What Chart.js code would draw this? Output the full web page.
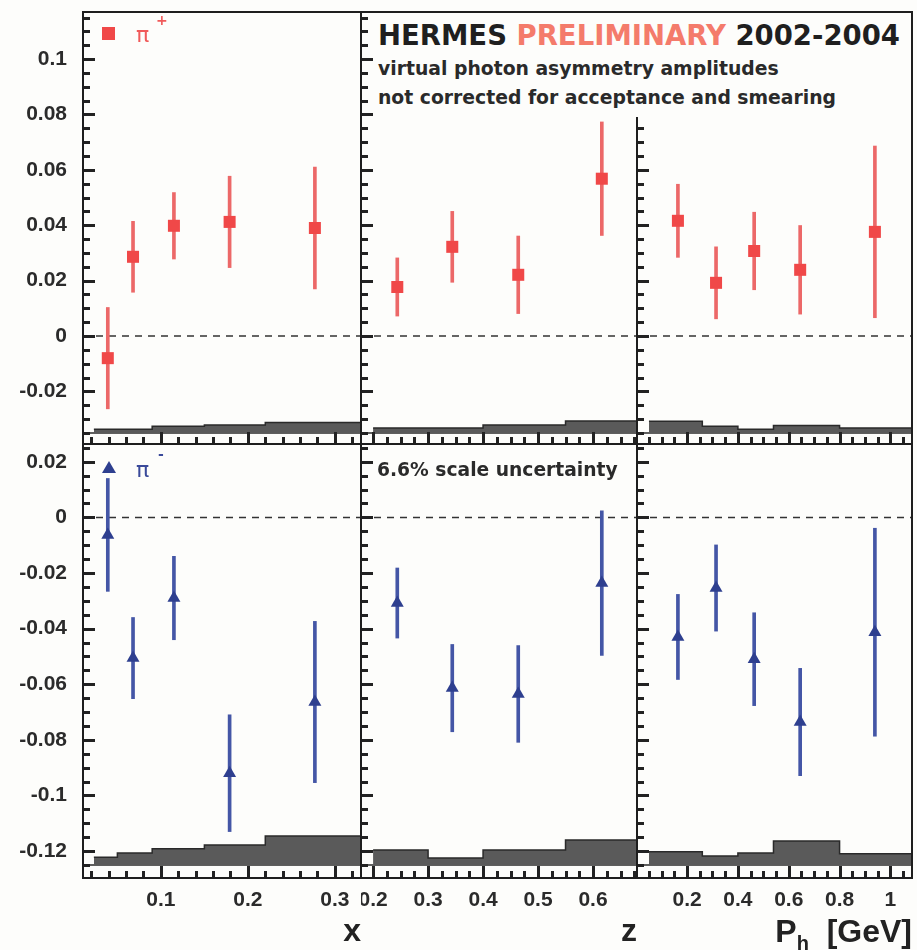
<!DOCTYPE html>
<html lang="en">
<head>
<meta charset="utf-8">
<title>HERMES preliminary - virtual photon asymmetry amplitudes</title>
<script src="https://cdn.jsdelivr.net/npm/chart.js@4.4.1/dist/chart.umd.min.js"></script>
<style>
  html, body { margin: 0; padding: 0; }
  body { width: 917px; height: 950px; position: relative; overflow: hidden; background: #fdfdfb; }
  canvas { position: absolute; }
  .txt { position: absolute; white-space: nowrap; font-family: 'DejaVu Sans', sans-serif; font-weight: bold; color: #2a2a2a; line-height: 1; z-index: 2; }
  #headerBox { position: absolute; left: 374px; top: 13px; width: 537px; height: 104px; background: #fdfdfb; z-index: 1; }
  .sq { position: absolute; width: 13px; height: 13px; background: #f04848; z-index: 2; }
  .tri { position: absolute; width: 0; height: 0; border-left: 7.5px solid transparent; border-right: 7.5px solid transparent; border-bottom: 12px solid #2e3f8f; z-index: 2; }
  .pi { position: absolute; font-family: 'DejaVu Sans', sans-serif; font-size: 22px; line-height: 1; z-index: 2; }
  .sup { position: absolute; font-family: 'DejaVu Sans', sans-serif; font-size: 14px; font-weight: bold; line-height: 1; z-index: 2; }
  .axt { position: absolute; font-family: 'Liberation Sans', Arial, sans-serif; font-weight: bold; font-size: 32px; line-height: 1; color: #222; white-space: nowrap; z-index: 2; }
  .axt sub { font-size: 20px; vertical-align: -8px; line-height: 0; }
</style>
</head>
<body>
<canvas id="c00"></canvas>
<canvas id="c01"></canvas>
<canvas id="c02"></canvas>
<canvas id="c10"></canvas>
<canvas id="c11"></canvas>
<canvas id="c12"></canvas>

<div id="headerBox"></div>
<div class="txt" style="left:378px;top:22px;font-size:27.5px;color:#1f1f1f">HERMES <span style="color:#f47b6b">PRELIMINARY</span> 2002-2004</div>
<div class="txt" style="left:378px;top:60px;font-size:18.8px">virtual photon asymmetry amplitudes</div>
<div class="txt" style="left:378px;top:89px;font-size:18.8px">not corrected for acceptance and smearing</div>
<div class="txt" style="left:377px;top:461px;font-size:18.7px">6.6% scale uncertainty</div>

<div class="sq" style="left:102px;top:27px"></div>
<div class="pi" style="left:136px;top:24px;color:#f05a5a">π</div>
<div class="sup" style="left:156px;top:13px;color:#f05a5a">+</div>
<div class="tri" style="left:102px;top:461px"></div>
<div class="pi" style="left:136px;top:459px;color:#3a4a9a">π</div>
<div class="sup" style="left:158px;top:447px;color:#3a4a9a">-</div>

<div class="axt" style="right:5px;top:915px">P<sub>h</sub>&nbsp;&nbsp;[GeV]</div>

<script>
// bin centres (mean x, z, Ph of each bin)
const xCenters = [0.039, 0.068, 0.115, 0.179, 0.277];
const zCenters = [0.244, 0.344, 0.464, 0.616];
const phCenters = [0.164, 0.314, 0.464, 0.645, 0.939];

// pi+ amplitudes with statistical errors
const piPlusX = [-0.0080, 0.0286, 0.0398, 0.0412, 0.0390];
const piPlusXErr = [0.0183, 0.0128, 0.0120, 0.0165, 0.0220];
const piPlusZ = [0.0177, 0.0322, 0.0221, 0.0568];
const piPlusZErr = [0.0105, 0.0128, 0.0140, 0.0205];
const piPlusPh = [0.0416, 0.0192, 0.0307, 0.0239, 0.0376];
const piPlusPhErr = [0.0132, 0.0130, 0.0140, 0.0160, 0.0310];

// pi- amplitudes with statistical errors
const piMinusX = [-0.0063, -0.0506, -0.0290, -0.0920, -0.0664];
const piMinusXErr = [0.0203, 0.0146, 0.0150, 0.0210, 0.0290];
const piMinusZ = [-0.0308, -0.0614, -0.0635, -0.0236];
const piMinusZErr = [0.0126, 0.0157, 0.0174, 0.0260];
const piMinusPh = [-0.0430, -0.0254, -0.0510, -0.0736, -0.0413];
const piMinusPhErr = [0.0153, 0.0155, 0.0167, 0.0193, 0.0374];

// systematic bands: bin edges and band heights
const xEdges = [0.023, 0.05, 0.09, 0.15, 0.22, 0.40];
const zEdges = [0.20, 0.30, 0.40, 0.55, 0.70];
const phEdges = [0.05, 0.26, 0.40, 0.54, 0.80, 1.20];
const piPlusSysX = [0.0013, 0.0013, 0.0024, 0.0029, 0.0038];
const piPlusSysZ = [0.0018, 0.0018, 0.0029, 0.0043];
const piPlusSysPh = [0.0042, 0.0024, 0.0013, 0.0027, 0.0018];
const piMinusSysX = [0.0028, 0.0043, 0.0058, 0.0072, 0.0104];
const piMinusSysZ = [0.0054, 0.0025, 0.0054, 0.0090];
const piMinusSysPh = [0.0047, 0.0032, 0.0043, 0.0086, 0.0040];

// tick labels
const xTicks = [0.1, 0.2, 0.3];
const zTicks = [0.2, 0.3, 0.4, 0.5, 0.6];
const phTicks = [0.2, 0.4, 0.6, 0.8, 1];
const yTicksPlus = [-0.02, 0, 0.02, 0.04, 0.06, 0.08, 0.1];
const yTicksMinus = [-0.12, -0.1, -0.08, -0.06, -0.04, -0.02, 0, 0.02];

// axis ranges
const axes = {
    x:  { min: 0.0105, max: 0.33,  ticks: xTicks,  minor: 0.02,  major: 0.1, title: 'x' },
    z:  { min: 0.178,  max: 0.68,  ticks: zTicks,  minor: 0.025, major: 0.1, title: 'z' },
    ph: { min: 0.003,  max: 1.085, ticks: phTicks, minor: 0.05,  major: 0.2, title: '' }
};
const rows = [
    { min: -0.039,  max: 0.117,  ticks: yTicksPlus,  base: -0.035, marker: '#f04848', bar: '#ec6868', shape: 'rect', radius: 8.5 },
    { min: -0.1297, max: 0.0264, ticks: yTicksMinus, base: -0.125, marker: '#2e3f8f', bar: '#4456a6', shape: 'triangle', radius: 7.5 }
];

// canvas placement (page pixels)
const colLeft = [0, 361, 637], colWidth = [361, 276, 280];
const rowTop = [0, 444], rowHeight = [444, 506];

const labelFont = { family: "'Liberation Sans', Arial, sans-serif", size: 21, weight: 'bold' };
const titleFont = { family: "'Liberation Sans', Arial, sans-serif", size: 32, weight: 'bold', lineHeight: 1 };
const fmt = v => String(+(+v).toFixed(3));

// ROOT style: ticks pointing into the frame + frame box
function rootTicks(minorX, majorX) {
    return {
        id: 'rootTicks',
        afterDraw(chart) {
            const { ctx, chartArea: a, scales } = chart;
            ctx.save();
            ctx.fillStyle = '#222222';
            const drawAxis = (scale, minor, major, horiz) => {
                for (let i = Math.ceil(scale.min / minor - 1e-6); i * minor <= scale.max + 1e-9; i++) {
                    const v = i * minor;
                    const isMajor = Math.abs(v / major - Math.round(v / major)) < 1e-6;
                    const len = isMajor ? 12 : 7;
                    const p = Math.round(scale.getPixelForValue(v));
                    if (horiz) ctx.fillRect(p - 1, a.bottom - len, 3, len);
                    else ctx.fillRect(a.left, p - 1, len, 3);
                }
            };
            drawAxis(scales.x, minorX, majorX, true);
            drawAxis(scales.y, 0.005, 0.02, false);
            ctx.lineWidth = 2;
            ctx.strokeStyle = '#1e1e1e';
            ctx.strokeRect(a.left, a.top, a.right - a.left, a.bottom - a.top);
            ctx.restore();
        }
    };
}

function makePanel(row, col, centers, vals, errs, edges, sys) {
    const r = rows[row];
    const ax = axes[['x', 'z', 'ph'][col]];
    const canvas = document.getElementById('c' + row + col);
    canvas.width = colWidth[col];
    canvas.height = rowHeight[row];
    canvas.style.left = colLeft[col] + 'px';
    canvas.style.top = rowTop[row] + 'px';

    const band = edges.map((e, i) => ({ x: e, y: r.base + sys[Math.min(i, sys.length - 1)] }));

    return new Chart(canvas, {
        type: 'scatter',
        data: {
            datasets: [
                { type: 'scatter', data: centers.map((x, i) => ({ x: x, y: vals[i] })),
                  pointStyle: r.shape, pointRadius: r.radius, backgroundColor: r.marker, borderWidth: 0, order: 0 },
                { type: 'bar', data: centers.map((x, i) => ({ x: x, y: [vals[i] - errs[i], vals[i] + errs[i]] })),
                  backgroundColor: r.bar, barThickness: 3, grouped: false, order: 1 },
                { type: 'line', data: [{ x: ax.min, y: 0 }, { x: ax.max, y: 0 }],
                  borderColor: '#333', borderWidth: 1.5, borderDash: [7, 6], pointRadius: 0, order: 2 },
                { type: 'line', data: band, stepped: true, fill: { value: r.base }, clip: 0,
                  backgroundColor: '#5a5a5a', borderColor: '#2a2a2a', borderWidth: 1.5, pointRadius: 0, order: 3 },
                { type: 'line', data: [{ x: ax.min, y: r.base }, { x: ax.max, y: r.base }],
                  borderColor: '#2a2a2a', borderWidth: 1.5, pointRadius: 0, order: 3 }
            ]
        },
        options: {
            responsive: false, animation: false, devicePixelRatio: 1, events: [],
            layout: { autoPadding: false, padding: { top: row === 0 ? 12 : 0, right: col === 2 ? 5 : 0, left: 0, bottom: 0 } },
            plugins: { legend: { display: false }, tooltip: { enabled: false } },
            scales: {
                x: {
                    type: 'linear', min: ax.min, max: ax.max, offset: false,
                    grid: { display: false, drawTicks: false, offset: false }, border: { display: false },
                    afterBuildTicks: s => { s.ticks = ax.ticks.map(v => ({ value: v })); },
                    ticks: { display: row === 1, autoSkip: false, maxRotation: 0, padding: 10,
                             color: '#2b2b2b', font: labelFont, callback: fmt },
                    title: { display: row === 1 && ax.title !== '', text: ax.title, align: 'end',
                             color: '#222', font: titleFont, padding: { top: 0, bottom: 2 } },
                    afterFit: s => { s.height = row === 1 ? 72 : 0; s.paddingLeft = 0; s.paddingRight = 0; }
                },
                y: {
                    type: 'linear', min: r.min, max: r.max, beginAtZero: false,
                    grid: { display: false, drawTicks: false }, border: { display: false },
                    afterBuildTicks: s => { s.ticks = r.ticks.map(v => ({ value: v })); },
                    ticks: { display: col === 0, autoSkip: false, padding: 16,
                             color: '#2b2b2b', font: labelFont, callback: fmt },
                    afterFit: s => { s.width = col === 0 ? 83 : 0; s.paddingTop = 0; s.paddingBottom = 0; }
                }
            }
        },
        plugins: [rootTicks(ax.minor, ax.major)]
    });
}

makePanel(0, 0, xCenters, piPlusX, piPlusXErr, xEdges, piPlusSysX);
makePanel(0, 1, zCenters, piPlusZ, piPlusZErr, zEdges, piPlusSysZ);
makePanel(0, 2, phCenters, piPlusPh, piPlusPhErr, phEdges, piPlusSysPh);
makePanel(1, 0, xCenters, piMinusX, piMinusXErr, xEdges, piMinusSysX);
makePanel(1, 1, zCenters, piMinusZ, piMinusZErr, zEdges, piMinusSysZ);
makePanel(1, 2, phCenters, piMinusPh, piMinusPhErr, phEdges, piMinusSysPh);
</script>
</body>
</html>
